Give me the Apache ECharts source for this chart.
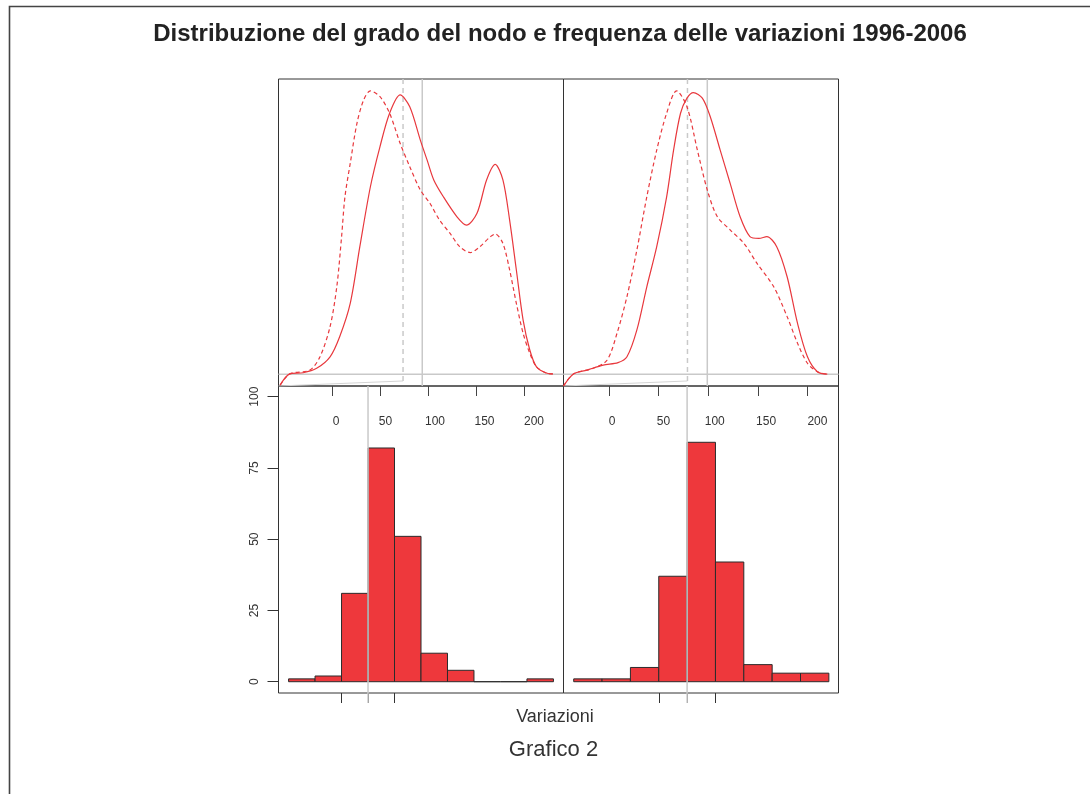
<!DOCTYPE html>
<html>
<head>
<meta charset="utf-8">
<script src="https://cdn.jsdelivr.net/npm/echarts@6/dist/echarts.min.js"></script>
<style>
html, body { margin: 0; padding: 0; background: #fff; }
#chart { width: 1090px; height: 794px; }
</style>
</head>
<body>
<div id="chart"></div>
<script>
// densita' stimate (scala relativa), coppie [x, y]
const densLeftSolid = [[-54, -3.7], [-44, 0.1], [-30, 0.5], [-16, 2.0], [-2, 5.9], [8, 12.7], [19, 24.0], [29, 43.2], [40, 63.5], [50, 77.1], [60, 88.4], [71, 94.6], [81, 90.6], [92, 79.3], [99, 72.6], [106, 65.8], [116, 60.1], [130, 53.4], [140, 50.5], [151, 54.5], [161, 65.8], [170, 71.1], [178, 65.8], [185, 52.2], [192, 35.3], [199, 18.4], [206, 8.2], [213, 2.5], [224, 0.3], [230, 0.1]]
const densLeftDash = [[-54, -3.7], [-44, 0.1], [-23, 1.4], [-12.5, 5.9], [-2, 16.1], [5, 29.6], [10, 46.6], [13.5, 60.1], [19, 71.4], [26, 85.0], [33, 92.9], [40, 96.0], [50, 94.0], [60, 88.4], [71, 78.2], [81, 70.3], [92, 62.4], [102, 57.9], [112, 52.2], [123, 47.7], [133, 43.2], [144, 41.2], [154, 43.2], [165, 46.6], [170, 47.5], [178, 44.3], [185, 35.3], [192, 24.0], [199, 13.9], [206, 7.1], [213, 2.5], [224, 0.3], [230, 0.1]]
const densRightSolid = [[-46, -4], [-36, 0.1], [-22.5, 1.4], [-6, 3.1], [9, 3.9], [18, 5.9], [28, 15.0], [38, 29.6], [48, 43.2], [58, 60.1], [65, 75.9], [72, 88.4], [78.5, 93.5], [85, 95.4], [94, 93.5], [102, 87.2], [112, 75.9], [122, 64.7], [132, 53.4], [142, 46.6], [151, 46.0], [159, 46.6], [169, 43.2], [179.5, 33.0], [190, 17.2], [200, 5.9], [210, 0.85], [220, 0]]
const densRightDash = [[-46, -4], [-36, 0.1], [-16, 2.0], [-2, 4.8], [8, 13.9], [18, 26.3], [28, 42.1], [38, 60.1], [48, 75.9], [58, 88.4], [68, 96.0], [78.5, 90.6], [89, 75.9], [99, 62.4], [109, 53.4], [122, 48.9], [136, 44.3], [149, 37.6], [166, 29.6], [179.5, 19.5], [190, 10.5], [200, 3.7], [210, 0.85], [220, 0]]

// istogrammi (frequenze per classe)
const histLeft = [1, 2, 31, 82, 51, 10, 4, 0, 0, 1]
const histRight = [1, 1, 5, 37, 84, 42, 6, 3, 3]

const densTicks = [0, 50, 100, 150, 200]
const countTicks = [0, 25, 50, 75, 100]
const refLeft = [74, 94]    // tratteggiata, continua
const refRight = [79, 99]
const histMarksLeft = [2, 3, 4]
const histMarksRight = [3, 4, 5]

const RED = '#e8383d'
const FILL = '#ee383c'
const GRAY = '#c9c9c9'
const FONT = '"Liberation Sans", Arial, sans-serif'

const chart = echarts.init(document.getElementById('chart'))

const TL = { xmin: -55.7, xmax: 241.1, lmin: -58.1, lmax: 229.8 }
const TR = { xmin: -46, xmax: 231.3, lmin: -47.3, lmax: 220.5 }
const BL = { xmin: -0.38, xmax: 10.38 }
const BR = { xmin: -0.36, xmax: 9.34 }
const Y_TOP = [-4, 100]
const Y_BOT = [-3.96, 103.75]

const gridBase = { show: true, borderColor: '#333', borderWidth: 1, backgroundColor: 'transparent' }
const noLine = { show: false, onZero: false }

const densAxis = (gi, p) => ([
  {
    type: 'value', gridIndex: gi, min: p.xmin, max: p.xmax, position: 'bottom',
    axisLine: noLine, splitLine: { show: false },
    axisTick: { show: true, inside: false, length: 10, customValues: densTicks, lineStyle: { color: '#444' } },
    axisLabel: { show: false }
  },
  {
    type: 'value', gridIndex: gi, min: p.lmin, max: p.lmax, position: 'bottom',
    axisLine: noLine, splitLine: { show: false }, axisTick: { show: false },
    axisLabel: { show: true, customValues: densTicks, margin: 30, fontSize: 12, color: '#333', fontFamily: FONT }
  }
])

const histAxis = (gi, p, marks) => ({
  type: 'value', gridIndex: gi, min: p.xmin, max: p.xmax, position: 'bottom',
  axisLine: noLine, splitLine: { show: false },
  axisTick: { show: true, inside: false, length: 10, customValues: marks, lineStyle: { color: '#333' } },
  axisLabel: { show: false }
})

const lineSeries = (xi, yi, data, dashed) => ({
  type: 'line', xAxisIndex: xi, yAxisIndex: yi, data: data,
  symbol: 'none', smooth: 0.3, z: 4,
  lineStyle: { color: RED, width: 1.2, type: dashed ? [4, 3] : 'solid' }
})

const grayLine = (xi, yi, data, dashed, clip) => ({
  type: 'line', xAxisIndex: xi, yAxisIndex: yi, data: data,
  symbol: 'none', z: 3, clip: clip !== false, silent: true,
  lineStyle: { color: GRAY, width: 1.5, type: dashed ? [5, 4] : 'solid' }
})

const densRefs = (xi, yi, p, ref) => ([
  grayLine(xi, yi, [[p.xmin, 0], [p.xmax, 0]]),
  grayLine(xi, yi, [[ref[0], -2.3], [ref[0], Y_TOP[1]]], true),
  grayLine(xi, yi, [[ref[1], Y_TOP[0]], [ref[1], Y_TOP[1]]]),
  { ...grayLine(xi, yi, [[p.xmin, Y_TOP[0]], [ref[0], -2.3]]), lineStyle: { color: '#d4d4d4', width: 1 } }
])

const histItem = (params, api) => {
  const x0 = api.value(0)
  const h = api.value(1)
  const a = api.coord([x0, 0])
  const b = api.coord([x0 + 1, h])
  return {
    type: 'rect',
    shape: { x: a[0], y: b[1], width: b[0] - a[0], height: a[1] - b[1] },
    style: { fill: FILL, stroke: '#2b2b2b', lineWidth: 1 }
  }
}

const histSeries = (xi, yi, counts) => ({
  type: 'custom', xAxisIndex: xi, yAxisIndex: yi, z: 2,
  renderItem: histItem,
  encode: { x: 0, y: 1 },
  data: counts.map((c, i) => [i, c])
})

const option = {
  animation: false,
  backgroundColor: '#fff',
  textStyle: { fontFamily: FONT },
  grid: [
    { ...gridBase, left: 278.5, top: 79, width: 285, height: 307 },
    { ...gridBase, left: 563.5, top: 79, width: 275, height: 307 },
    { ...gridBase, left: 278.5, top: 386, width: 285, height: 307 },
    { ...gridBase, left: 563.5, top: 386, width: 275, height: 307 }
  ],
  xAxis: [
    ...densAxis(0, TL),
    ...densAxis(1, TR),
    histAxis(2, BL, histMarksLeft),
    histAxis(3, BR, histMarksRight)
  ],
  yAxis: [
    { type: 'value', gridIndex: 0, min: Y_TOP[0], max: Y_TOP[1], show: false, axisLine: noLine },
    { type: 'value', gridIndex: 1, min: Y_TOP[0], max: Y_TOP[1], show: false, axisLine: noLine },
    {
      type: 'value', gridIndex: 2, min: Y_BOT[0], max: Y_BOT[1], position: 'left',
      axisLine: noLine, splitLine: { show: false },
      axisTick: { show: true, inside: false, length: 11, customValues: countTicks, lineStyle: { color: '#333' } },
      axisLabel: { show: true, customValues: countTicks, rotate: 90, margin: 18, fontSize: 12, color: '#333', fontFamily: FONT }
    },
    {
      type: 'value', gridIndex: 3, min: Y_BOT[0], max: Y_BOT[1],
      axisLine: noLine, splitLine: { show: false },
      axisTick: { show: false }, axisLabel: { show: false }
    }
  ],
  series: [
    ...densRefs(0, 0, TL, refLeft),
    lineSeries(0, 0, densLeftSolid, false),
    lineSeries(0, 0, densLeftDash, true),
    ...densRefs(2, 1, TR, refRight),
    lineSeries(2, 1, densRightSolid, false),
    lineSeries(2, 1, densRightDash, true),
    histSeries(4, 2, histLeft),
    { ...grayLine(4, 2, [[histMarksLeft[1], -7.5], [histMarksLeft[1], Y_BOT[1]]], false, false), z: 5 },
    histSeries(5, 3, histRight),
    { ...grayLine(5, 3, [[histMarksRight[1], -7.5], [histMarksRight[1], Y_BOT[1]]], false, false), z: 5 }
  ],
  graphic: [
    {
      type: 'polyline', silent: true,
      shape: { points: [[9.5, 794], [9.5, 6.5], [1090, 6.5]] },
      style: { stroke: '#444', lineWidth: 1.6, fill: null }
    },
    {
      type: 'text', x: 560, y: 34,
      style: { text: 'Distribuzione del grado del nodo e frequenza delle variazioni 1996-2006', fontSize: 24, fontWeight: 'bold', fontFamily: FONT, fill: '#222', align: 'center', verticalAlign: 'middle' }
    },
    {
      type: 'text', x: 555, y: 717,
      style: { text: 'Variazioni', fontSize: 18, fontFamily: FONT, fill: '#333', align: 'center', verticalAlign: 'middle' }
    },
    {
      type: 'text', x: 553.5, y: 750,
      style: { text: 'Grafico 2', fontSize: 22, fontFamily: FONT, fill: '#333', align: 'center', verticalAlign: 'middle' }
    }
  ]
}

chart.setOption(option)
</script>
</body>
</html>
